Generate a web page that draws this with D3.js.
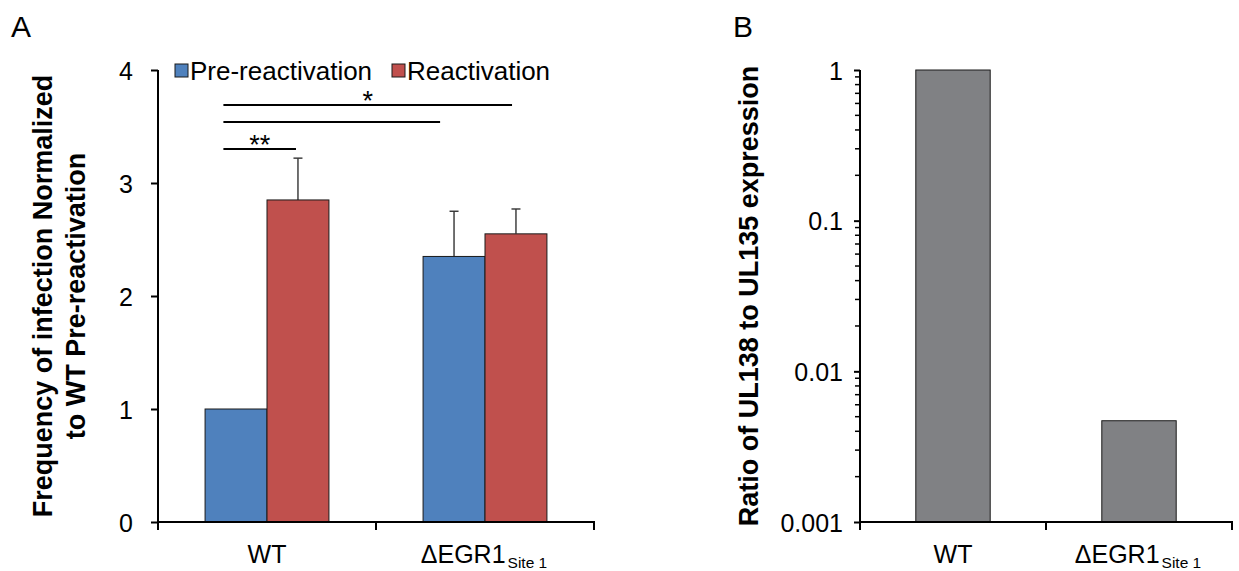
<!DOCTYPE html>
<html>
<head>
<meta charset="utf-8">
<script src="https://cdn.jsdelivr.net/npm/d3@7"></script>
<style>
  html, body { margin: 0; padding: 0; background: #fff; }
  svg { display: block; }
  text { font-family: "Liberation Sans", Arial, sans-serif; fill: #000; }
</style>
</head>
<body>
<svg id="chart" width="1239" height="571"></svg>
<script>
// ---------- DATA ----------
const categoryMain = ["WT", "\u0394EGR1"];
const categorySub  = ["", "Site 1"];
const seriesNames  = ["Pre-reactivation", "Reactivation"];
const seriesColors = ["#4F81BD", "#C0504D"];
const preValues    = [1.0, 2.35];
const reactValues  = [2.85, 2.55];
const preErrTop    = [null, 2.75];
const reactErrTop  = [3.22, 2.77];
const yTicksA      = [0, 1, 2, 3, 4];
// significance brackets: x in category-index units, y in data units
const sigX1    = [-0.20, -0.20, -0.20];
const sigX2    = [1.124, 0.794, 0.133];
const sigY     = [3.69, 3.54, 3.30];
const sigLabel = ["*", "", "**"];

const ratioValues = [1, 0.0047];
const yTicksB     = [1, 0.1, 0.01, 0.001];
const yTickLabelsB = ["1", "0.1", "0.01", "0.001"];

// ---------- SETUP ----------
const svg = d3.select("#chart");
const FONT = 25;

// Panel letters
svg.append("text").attr("x", 11).attr("y", 37).attr("font-size", 30).text("A");
svg.append("text").attr("x", 733).attr("y", 37).attr("font-size", 30).text("B");

// ================= PANEL A =================
const A = { left: 158, right: 594, top: 70, bottom: 522 };
const xA = d3.scaleBand().domain(categoryMain).range([A.left, A.right]).padding(0);
const xInner = d3.scaleBand().domain(seriesNames).range([0, xA.bandwidth()]).paddingInner(0).paddingOuter(0.76);
const yA = d3.scaleLinear().domain([0, 4]).range([A.bottom, A.top]);
const xIdxA = d3.scaleLinear().domain([0, 1])
  .range([xA(categoryMain[0]) + xA.bandwidth() / 2, xA(categoryMain[1]) + xA.bandwidth() / 2]);

const gA = svg.append("g");

// Bars
const barData = [];
categoryMain.forEach((c, i) => {
  barData.push({ cat: c, s: seriesNames[0], v: preValues[i], err: preErrTop[i], col: seriesColors[0] });
  barData.push({ cat: c, s: seriesNames[1], v: reactValues[i], err: reactErrTop[i], col: seriesColors[1] });
});

// Error bars (drawn behind bars)
const errG = gA.append("g");
barData.filter(d => d.err != null).forEach(d => {
  const cx = xA(d.cat) + xInner(d.s) + xInner.bandwidth() / 2;
  errG.append("line").attr("x1", cx).attr("x2", cx).attr("y1", yA(d.v)).attr("y2", yA(d.err))
    .attr("stroke", "#333").attr("stroke-width", 1.4);
  errG.append("line").attr("x1", cx - 4.5).attr("x2", cx + 4.5).attr("y1", yA(d.err)).attr("y2", yA(d.err))
    .attr("stroke", "#333").attr("stroke-width", 1.4);
});

gA.append("g").selectAll("rect").data(barData).join("rect")
  .attr("x", d => xA(d.cat) + xInner(d.s))
  .attr("y", d => yA(d.v))
  .attr("width", xInner.bandwidth())
  .attr("height", d => yA(0) - yA(d.v))
  .attr("fill", d => d.col)
  .attr("stroke", "#1a1a1a")
  .attr("stroke-width", 1);

// Y axis
const yAxisA = gA.append("g").attr("transform", `translate(${A.left},0)`)
  .call(d3.axisLeft(yA).tickValues(yTicksA).tickFormat(d3.format("d")).tickSize(7).tickPadding(18));
yAxisA.select(".domain").attr("d", `M0,${A.top}V${A.bottom}`).attr("stroke", "#000").attr("stroke-width", 2);
yAxisA.selectAll(".tick line").attr("stroke", "#000").attr("stroke-width", 2);
yAxisA.selectAll(".tick text").attr("font-size", FONT).attr("font-family", '"Liberation Sans", Arial, sans-serif').attr("dy", "0.36em");

// X axis
const xAxisA = gA.append("g").attr("transform", `translate(0,${A.bottom})`);
xAxisA.append("line").attr("x1", A.left - 1).attr("x2", A.right + 1).attr("y1", 0).attr("y2", 0)
  .attr("stroke", "#000").attr("stroke-width", 2);
const boundsA = categoryMain.map(c => xA(c)).concat([A.right]);
xAxisA.selectAll("line.tk").data(boundsA).join("line").attr("class", "tk")
  .attr("x1", d => d).attr("x2", d => d).attr("y1", 0).attr("y2", 8)
  .attr("stroke", "#000").attr("stroke-width", 2);

function catLabels(g, xs, yBase) {
  categoryMain.forEach((c, i) => {
    const t = g.append("text")
      .attr("x", xs(c) + xs.bandwidth() / 2 - (categorySub[i] ? 1 : 0))
      .attr("y", yBase)
      .attr("text-anchor", "middle")
      .attr("font-size", FONT);
    t.append("tspan").text(c);
    if (categorySub[i]) {
      t.append("tspan").attr("dx", 2).attr("dy", 5).attr("font-size", 15.5).text(categorySub[i]);
    }
  });
}
catLabels(gA, xA, 563);

// Legend
const legA = gA.append("g");
const legX = [175, 392];
seriesNames.forEach((s, i) => {
  legA.append("rect").attr("x", legX[i]).attr("y", 64).attr("width", 13).attr("height", 13)
    .attr("fill", seriesColors[i]).attr("stroke", "#1a1a1a").attr("stroke-width", 1);
  legA.append("text").attr("x", legX[i] + 15).attr("y", 80).attr("font-size", 26).text(s);
});

// Significance brackets
sigY.forEach((yv, i) => {
  gA.append("line")
    .attr("x1", xIdxA(sigX1[i])).attr("x2", xIdxA(sigX2[i]))
    .attr("y1", yA(yv)).attr("y2", yA(yv))
    .attr("stroke", "#000").attr("stroke-width", 2);
  if (sigLabel[i]) {
    gA.append("text")
      .attr("x", (xIdxA(sigX1[i]) + xIdxA(sigX2[i])) / 2)
      .attr("y", yA(yv) + 5)
      .attr("text-anchor", "middle")
      .attr("font-size", 27)
      .text(sigLabel[i]);
  }
});

// Y label
gA.append("text").attr("transform", "translate(52,296) rotate(-90)")
  .attr("text-anchor", "middle").attr("font-size", 27).attr("font-weight", "bold")
  .text("Frequency of infection Normalized");
gA.append("text").attr("transform", "translate(85,296) rotate(-90)")
  .attr("text-anchor", "middle").attr("font-size", 27).attr("font-weight", "bold")
  .text("to WT Pre-reactivation");

// ================= PANEL B =================
const B = { left: 860, right: 1232, top: 70, bottom: 522 };
const xB = d3.scaleBand().domain(categoryMain).range([B.left, B.right]).padding(0);
const yB = d3.scaleLog().domain([0.001, 1]).range([B.bottom, B.top]);
const barFrac = 0.4;
const gB = svg.append("g");

gB.append("g").selectAll("rect").data(categoryMain).join("rect")
  .attr("x", (c) => xB(c) + xB.bandwidth() * (1 - barFrac) / 2)
  .attr("y", (c, i) => yB(ratioValues[i]))
  .attr("width", xB.bandwidth() * barFrac)
  .attr("height", (c, i) => yB(0.001) - yB(ratioValues[i]))
  .attr("fill", "#808184")
  .attr("stroke", "#1a1a1a")
  .attr("stroke-width", 1);

// minor ticks
const minorB = [];
[0.001, 0.01, 0.1].forEach(dec => { for (let k = 2; k <= 9; k++) minorB.push(dec * k); });
gB.append("g").selectAll("line").data(minorB).join("line")
  .attr("x1", B.left - 5).attr("x2", B.left)
  .attr("y1", d => yB(d)).attr("y2", d => yB(d))
  .attr("stroke", "#000").attr("stroke-width", 1.5);

const yAxisB = gB.append("g").attr("transform", `translate(${B.left},0)`)
  .call(d3.axisLeft(yB).tickValues(yTicksB).tickFormat((d, i) => yTickLabelsB[i]).tickSize(6).tickPadding(11));
yAxisB.select(".domain").attr("d", `M0,${B.top}V${B.bottom}`).attr("stroke", "#000").attr("stroke-width", 2);
yAxisB.selectAll(".tick line").attr("stroke", "#000").attr("stroke-width", 2);
yAxisB.selectAll(".tick text").attr("font-size", FONT).attr("font-family", '"Liberation Sans", Arial, sans-serif').attr("dy", "0.36em");

const xAxisB = gB.append("g").attr("transform", `translate(0,${B.bottom})`);
xAxisB.append("line").attr("x1", B.left - 1).attr("x2", B.right + 1).attr("y1", 0).attr("y2", 0)
  .attr("stroke", "#000").attr("stroke-width", 2);
const boundsB = categoryMain.map(c => xB(c)).concat([B.right]);
xAxisB.selectAll("line.tk").data(boundsB).join("line").attr("class", "tk")
  .attr("x1", d => d).attr("x2", d => d).attr("y1", 0).attr("y2", 8)
  .attr("stroke", "#000").attr("stroke-width", 2);
catLabels(gB, xB, 563);

gB.append("text").attr("transform", "translate(758,296) rotate(-90)")
  .attr("text-anchor", "middle").attr("font-size", 27).attr("font-weight", "bold")
  .text("Ratio of UL138 to UL135 expression");
</script>
</body>
</html>
